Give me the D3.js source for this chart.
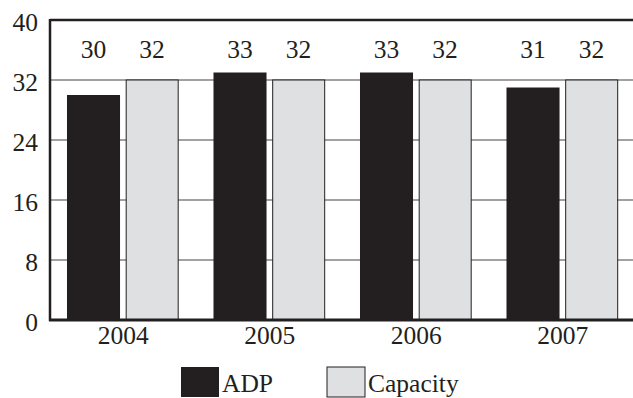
<!DOCTYPE html>
<html><head><meta charset="utf-8">
<script src="https://cdn.jsdelivr.net/npm/d3@7"></script>
<style>body{margin:0;background:#fff}</style>
</head><body><svg id="c" width="633" height="398" font-family="Liberation Serif, Times New Roman, serif" fill="#231f20"></svg>
<script>
const years = ["2004","2005","2006","2007"];
const adp = [30,33,33,31];
const capacity = [32,32,32,32];
const yTicks = [0,8,16,24,32,40];
const seriesNames = ["ADP","Capacity"];

const svg = d3.select("#c");
const L=50, T=20, B=320, R=636;
const x = d3.scaleBand().domain(years).range([L,R]);
const y = d3.scaleLinear().domain([0,40]).range([B,T]);
const bw = x.bandwidth();
const dark="#231f20", light="#dfe0e2";
const FS = 25.5;

svg.append("g").selectAll("line").data(yTicks.filter(t=>t>0&&t<40)).join("line")
  .attr("x1",L).attr("x2",633).attr("y1",d=>y(d)).attr("y2",d=>y(d))
  .attr("stroke","#444").attr("stroke-width",1.2);

const g = svg.append("g");
years.forEach((yr,i)=>{
  const x0 = x(yr);
  g.append("rect").attr("x",x0+bw*0.116).attr("width",bw*0.362)
    .attr("y",y(adp[i])).attr("height",B-y(adp[i])).attr("fill",dark);
  g.append("rect").attr("x",x0+bw*0.52).attr("width",bw*0.355)
    .attr("y",y(capacity[i])).attr("height",B-y(capacity[i]))
    .attr("fill",light).attr("stroke","#231f20").attr("stroke-width",1);
  svg.append("text").attr("x",x0+bw*0.297).attr("y",58).attr("text-anchor","middle")
    .attr("font-size",FS).text(adp[i]);
  svg.append("text").attr("x",x0+bw*0.697).attr("y",58).attr("text-anchor","middle")
    .attr("font-size",FS).text(capacity[i]);
});

svg.append("line").attr("x1",L).attr("x2",633).attr("y1",T).attr("y2",T).attr("stroke",dark).attr("stroke-width",2.5);
svg.append("line").attr("x1",L).attr("x2",L).attr("y1",T-1).attr("y2",B+1).attr("stroke",dark).attr("stroke-width",2.5);
svg.append("line").attr("x1",L-1).attr("x2",633).attr("y1",B).attr("y2",B).attr("stroke",dark).attr("stroke-width",3);

svg.append("g").selectAll("text").data(yTicks).join("text")
  .attr("x",38).attr("y",d=>y(d)+11).attr("text-anchor","end").attr("font-size",FS).text(d=>d);

svg.append("g").selectAll("text").data(years).join("text")
  .attr("x",d=>x(d)+bw*0.5).attr("y",344).attr("text-anchor","middle").attr("font-size",FS).text(d=>d);

const lg = [{n:seriesNames[0],c:dark,x:181,tx:222},{n:seriesNames[1],c:light,x:327,tx:368}];
lg.forEach(d=>{
  svg.append("rect").attr("x",d.x).attr("y",367).attr("width",38).attr("height",30)
    .attr("fill",d.c).attr("stroke",d.c===light?dark:"none").attr("stroke-width",1);
  svg.append("text").attr("x",d.tx).attr("y",392).attr("font-size",FS).text(d.n);
});
</script></body></html>
